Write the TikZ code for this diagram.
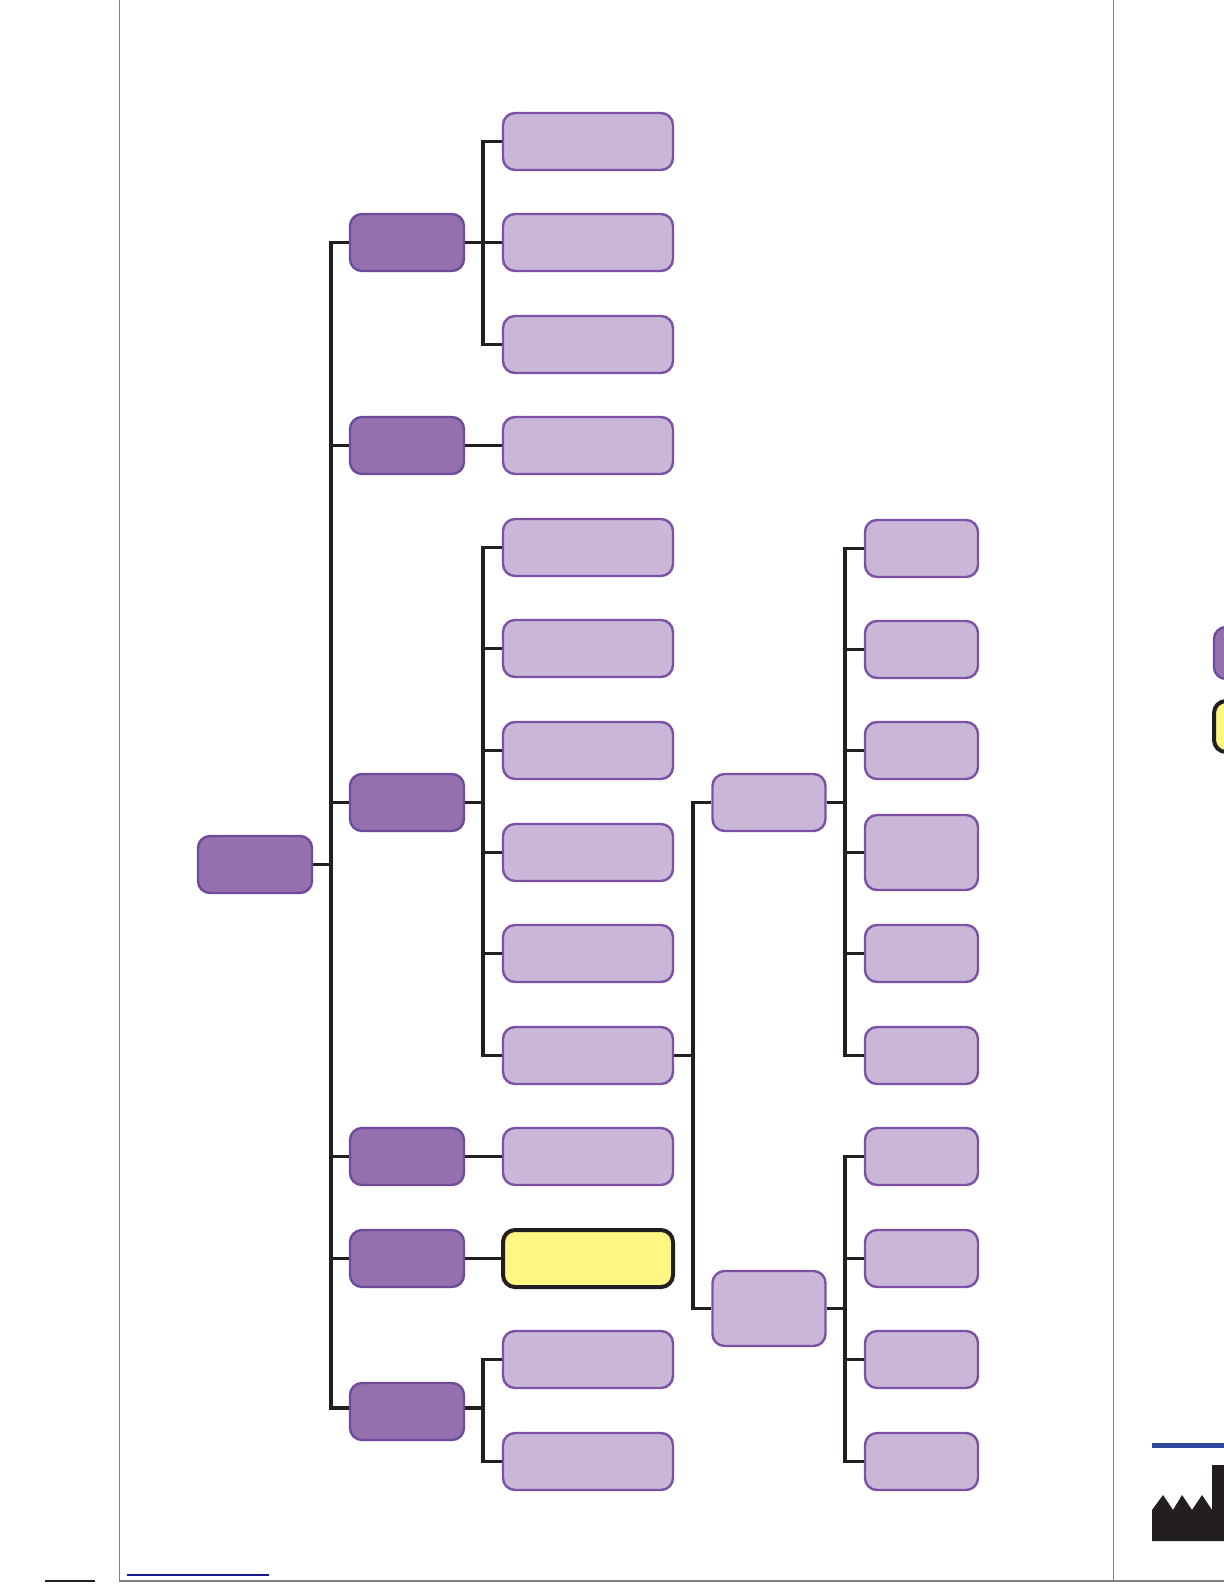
\documentclass[tikz,border=0pt]{standalone}
\usepackage{xcolor}
\definecolor{rootfill}{HTML}{9570AE}
\definecolor{rootedge}{HTML}{6F4C9B}
\definecolor{leaf}{HTML}{CAB6D7}
\definecolor{leafedge}{HTML}{7B52A5}
\definecolor{flag}{HTML}{FFF782}
\definecolor{ink}{HTML}{231F20}
\definecolor{rule}{HTML}{808285}
\definecolor{navy}{HTML}{1B1A8C}
\definecolor{bar}{HTML}{2E4A9E}
\tikzset{
  headbox/.style={draw=rootedge,line width=1.2pt,rounded corners=6pt,fill=rootfill,minimum width=57pt,minimum height=28.5pt,inner sep=0pt,yshift=-0.25pt},
  widebox/.style={draw=leafedge,line width=1.2pt,rounded corners=6pt,fill=leaf,minimum width=85pt,minimum height=28.5pt,inner sep=0pt,yshift=-0.25pt},
  smallbox/.style={widebox,minimum width=56.5pt},
  tallbox/.style={smallbox,minimum height=37.5pt},
  flagbox/.style={widebox,draw=ink,line width=2pt,fill=flag},
  link/.style={draw=ink,line width=1.7pt},
  thinlink/.style={link,line width=1.4pt},
  frameline/.style={draw=rule,line width=0.6pt},
}

\begin{document}
\begin{tikzpicture}[x=0.5pt,y=-0.5pt]
  \clip (0,0) rectangle (1224,1584);
  \fill[white] (0,0) rectangle (1224,1584);

  % page frame
  \draw[frameline] (119.5,0) -- (119.5,1581) -- (1224,1581);
  \draw[frameline] (1113.5,0) -- (1113.5,1581);
  \draw[draw=navy,line width=0.6pt] (127,1575) -- (269,1575);
  \draw[draw=ink,line width=0.6pt] (45,1581) -- (95,1581);

  % main column
  \node[headbox] (root) at (255,864) {};
  \node[headbox] (gone) at (407,242) {};
  \node[headbox] (gtwo) at (407,445) {};
  \node[headbox] (gthree) at (407,802) {};
  \node[headbox] (gfour) at (407,1156) {};
  \node[headbox] (gfive) at (407,1258) {};
  \node[headbox] (gsix) at (407,1411) {};

  \node[widebox] (wa) at (588,141) {};
  \node[widebox] (wb) at (588,242) {};
  \node[widebox] (wc) at (588,344) {};
  \node[widebox] (wd) at (588,445) {};
  \node[widebox] (we) at (588,547) {};
  \node[widebox] (wf) at (588,648) {};
  \node[widebox] (wg) at (588,750) {};
  \node[widebox] (wh) at (588,852) {};
  \node[widebox] (wi) at (588,953) {};
  \node[widebox] (wj) at (588,1055) {};
  \node[widebox] (wk) at (588,1156) {};
  \node[flagbox] (wl) at (588,1258) {};
  \node[widebox] (wm) at (588,1359) {};
  \node[widebox] (wn) at (588,1461) {};

  \node[smallbox] (upper) at (769,802) {};
  \node[tallbox] (lower) at (769,1308) {};

  \node[smallbox] (ua) at (921.5,548) {};
  \node[smallbox] (ub) at (921.5,649) {};
  \node[smallbox] (uc) at (921.5,750) {};
  \node[tallbox] (ud) at (921.5,852) {};
  \node[smallbox] (ue) at (921.5,953) {};
  \node[smallbox] (uf) at (921.5,1055) {};
  \node[smallbox] (la) at (921.5,1156) {};
  \node[smallbox] (lb) at (921.5,1258) {};
  \node[smallbox] (lc) at (921.5,1359) {};
  \node[smallbox] (ld) at (921.5,1461) {};

  % buses
  \coordinate (busroot) at (331,864);
  \coordinate (busone) at (483,242);
  \coordinate (busthree) at (483,802);
  \coordinate (bussix) at (483,1408);
  \coordinate (tapsix) at (349,1408);
  \coordinate (tapsixout) at (465,1408);
  \coordinate (busj) at (693,1055);
  \coordinate (busupper) at (845,802);
  \coordinate (buslower) at (845,1308);

  \draw[thinlink] (root.east) -- (root.east -| busroot);
  \draw[link] (busroot) |- (gone.west);
  \draw[link] (busroot) |- (gtwo.west);
  \draw[link] (busroot) |- (gthree.west);
  \draw[link] (busroot) |- (gfour.west);
  \draw[link] (busroot) |- (gfive.west);
  \draw[link] (busroot) |- (tapsix);

  \draw[link] (gone) -- (wb);
  \draw[link] (busone) |- (wa.west);
  \draw[link] (busone) |- (wc.west);
  \draw[link] (gtwo) -- (wd);

  \draw[link] (gthree.east) -- (gthree.east -| busthree);
  \draw[link] (busthree) |- (we.west);
  \draw[link] (busthree) |- (wf.west);
  \draw[link] (busthree) |- (wg.west);
  \draw[link] (busthree) |- (wh.west);
  \draw[link] (busthree) |- (wi.west);
  \draw[link] (busthree) |- (wj.west);

  \draw[link] (gfour) -- (wk);
  \draw[link] (gfive) -- (wl);
  \draw[link] (tapsixout) -- (bussix);
  \draw[link] (bussix) |- (wm.west);
  \draw[link] (bussix) |- (wn.west);

  \draw[link] (wj.east) -- (wj.east -| busj);
  \draw[link] (busj) |- (upper.west);
  \draw[link] (busj) |- (lower.west);

  \draw[link] (upper.east) -- (upper.east -| busupper);
  \draw[link] (busupper) |- (ua.west);
  \draw[link] (busupper) |- (ub.west);
  \draw[link] (busupper) |- (uc.west);
  \draw[link] (busupper) |- (ud.west);
  \draw[link] (busupper) |- (ue.west);
  \draw[link] (busupper) |- (uf.west);

  \draw[link] (lower.east) -- (lower.east -| buslower);
  \draw[link] (buslower) |- (la.west);
  \draw[link] (buslower) |- (lb.west);
  \draw[link] (buslower) |- (lc.west);
  \draw[link] (buslower) |- (ld.west);

  % next page edge
  \node[headbox,minimum height=26pt] (keyhead) at (1271,652.5) {};
  \node[flagbox,minimum width=57pt,minimum height=25.5pt] (keyflag) at (1271,726) {};
  \fill[bar] (1152,1442.5) rectangle (1224,1447.5);
  \fill[ink] (1152,1541) -- (1152,1510) -- (1163,1495) -- (1173,1510) -- (1182,1495)
    -- (1192,1510) -- (1202,1495) -- (1212,1510) -- (1212,1465) -- (1224,1465) -- (1224,1541) -- cycle;
\end{tikzpicture}
\end{document}
